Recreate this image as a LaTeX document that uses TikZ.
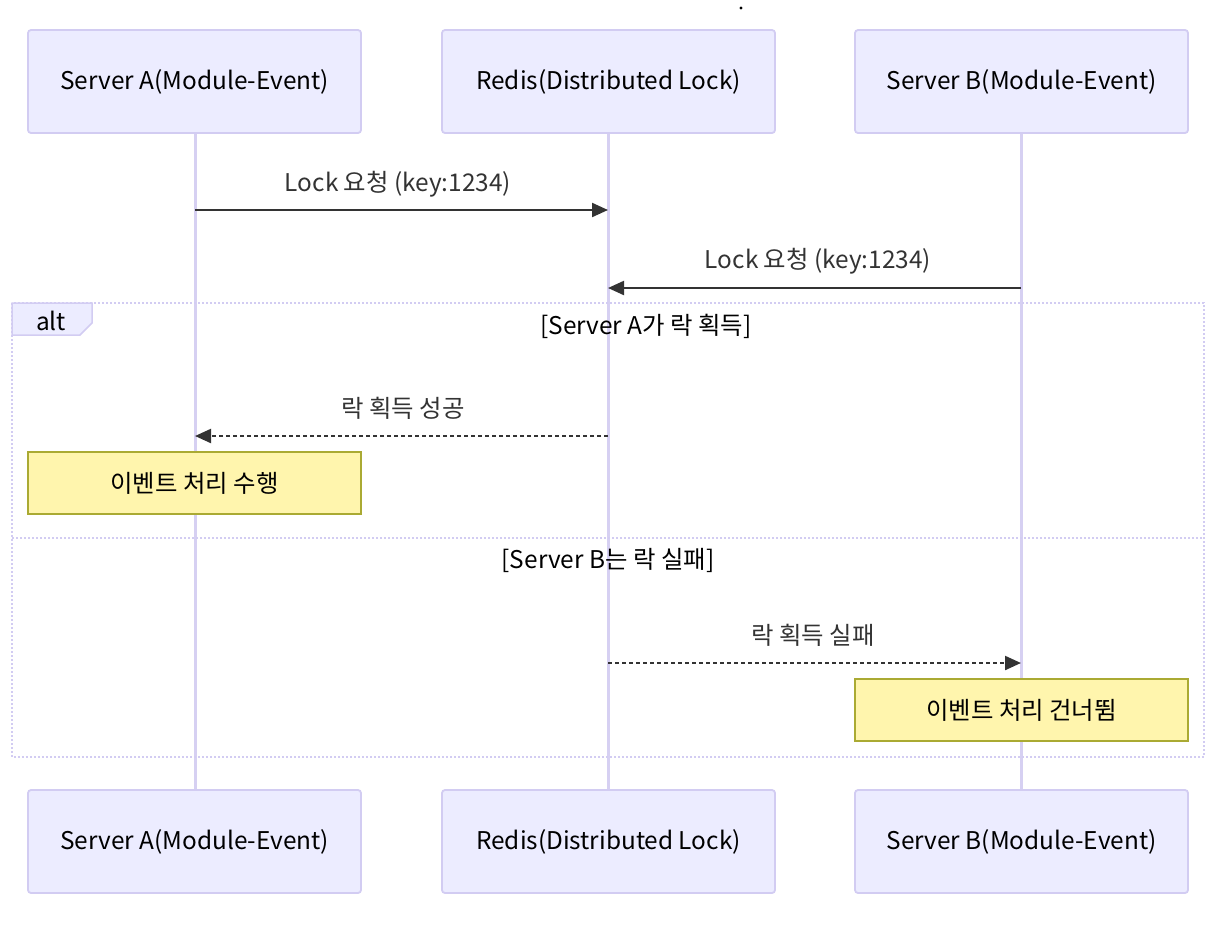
\documentclass[tikz,border=0pt]{standalone}
\usepackage{fontspec}
\setmainfont{Noto Sans CJK KR}
\usetikzlibrary{arrows.meta}
\definecolor{actfill}{HTML}{ECECFF}
\definecolor{actdraw}{HTML}{D2CCF2}
\definecolor{lifecol}{HTML}{D6D0F2}
\definecolor{msgcol}{HTML}{333333}
\definecolor{notefill}{HTML}{FFF5AD}
\definecolor{notedraw}{HTML}{AAAA33}
\definecolor{framecol}{HTML}{D2CCF2}
\tikzset{
  txt/.style={font=\fontsize{24.4}{28}\selectfont},
  actor/.style={txt, draw=actdraw, fill=actfill, line width=1.8pt, rounded corners=3pt,
    minimum width=333pt, minimum height=103pt, inner sep=0pt, text=black},
  life/.style={draw=lifecol, line width=3pt},
  msg/.style={draw=msgcol, line width=2.2pt, -{Triangle[length=16pt,width=14pt]}},
  reply/.style={msg, dash pattern=on 4pt off 3pt},
  mlabel/.style={txt, text=msgcol, inner sep=0pt},
  note/.style={txt, draw=notedraw, fill=notefill, line width=1.5pt, minimum width=333pt,
    minimum height=62pt, inner sep=0pt, text=black},
  frame/.style={draw=framecol, line width=2.5pt, dash pattern=on 2pt off 2pt},
  flabel/.style={txt, text=black, inner sep=0pt},
}
\begin{document}
\begin{tikzpicture}[x=1pt, y=-1pt]
\useasboundingbox (0,0) rectangle (1232,930);
% title dot
\fill[black] (741,8) circle (1.6pt);
% lifelines
\coordinate (la) at (195,133);
\coordinate (lr) at (608,133);
\coordinate (lb) at (1021,133);
\coordinate (la2) at (195,790);
\coordinate (lr2) at (608,790);
\coordinate (lb2) at (1021,790);
\draw[life] (la) -- (la2);
\draw[life] (lr) -- (lr2);
\draw[life] (lb) -- (lb2);
% actors
\node[actor] (a1) at (194.5,81.5) {\raisebox{-2.5pt}{Server A(Module-Event)}};
\node[actor] (r1) at (608.5,81.5) {\raisebox{-2.5pt}{Redis(Distributed Lock)}};
\node[actor] (b1) at (1021.5,81.5) {\raisebox{-2.5pt}{Server B(Module-Event)}};
\node[actor] (a2) at (194.5,841.5) {\raisebox{-2.5pt}{Server A(Module-Event)}};
\node[actor] (r2) at (608.5,841.5) {\raisebox{-2.5pt}{Redis(Distributed Lock)}};
\node[actor] (b2) at (1021.5,841.5) {\raisebox{-2.5pt}{Server B(Module-Event)}};
% alt frame
\draw[frame] (12,303) rectangle (1204,757);
\draw[frame] (12,538) -- (1204,538);
\filldraw[draw=framecol, fill=actfill, line width=1.5pt] (12,303) -- (92,303) -- (92,323) -- (80,335) -- (12,335) -- cycle;
\node[flabel] (alt) at (51,321) {alt};
\node[flabel] (c1) at (646,326) {[Server A가 락 획득]};
\node[flabel] (c2) at (608,560) {[Server B는 락 실패]};
% messages
\coordinate (m1s) at (195,210); \coordinate (m1e) at (608,210);
\draw[msg] (m1s) -- (m1e);
\node[mlabel] (t1) at (398,184) {Lock 요청 (key:1234)};
\coordinate (m2s) at (1021,288); \coordinate (m2e) at (608,288);
\draw[msg] (m2s) -- (m2e);
\node[mlabel] (t2) at (818,261) {Lock 요청 (key:1234)};
\coordinate (m3s) at (608,436); \coordinate (m3e) at (195,436);
\draw[reply] (m3s) -- (m3e);
\node[mlabel] (t3) at (403,408) {락 획득 성공};
\node[note] (n1) at (194.5,483) {\raisebox{-2pt}{이벤트 처리 수행}};
\coordinate (m4s) at (608,663); \coordinate (m4e) at (1021,663);
\draw[reply] (m4s) -- (m4e);
\node[mlabel] (t4) at (813,635) {락 획득 실패};
\node[note] (n2) at (1021.5,710) {\raisebox{-2pt}{이벤트 처리 건너뜀}};
\end{tikzpicture}
\end{document}
